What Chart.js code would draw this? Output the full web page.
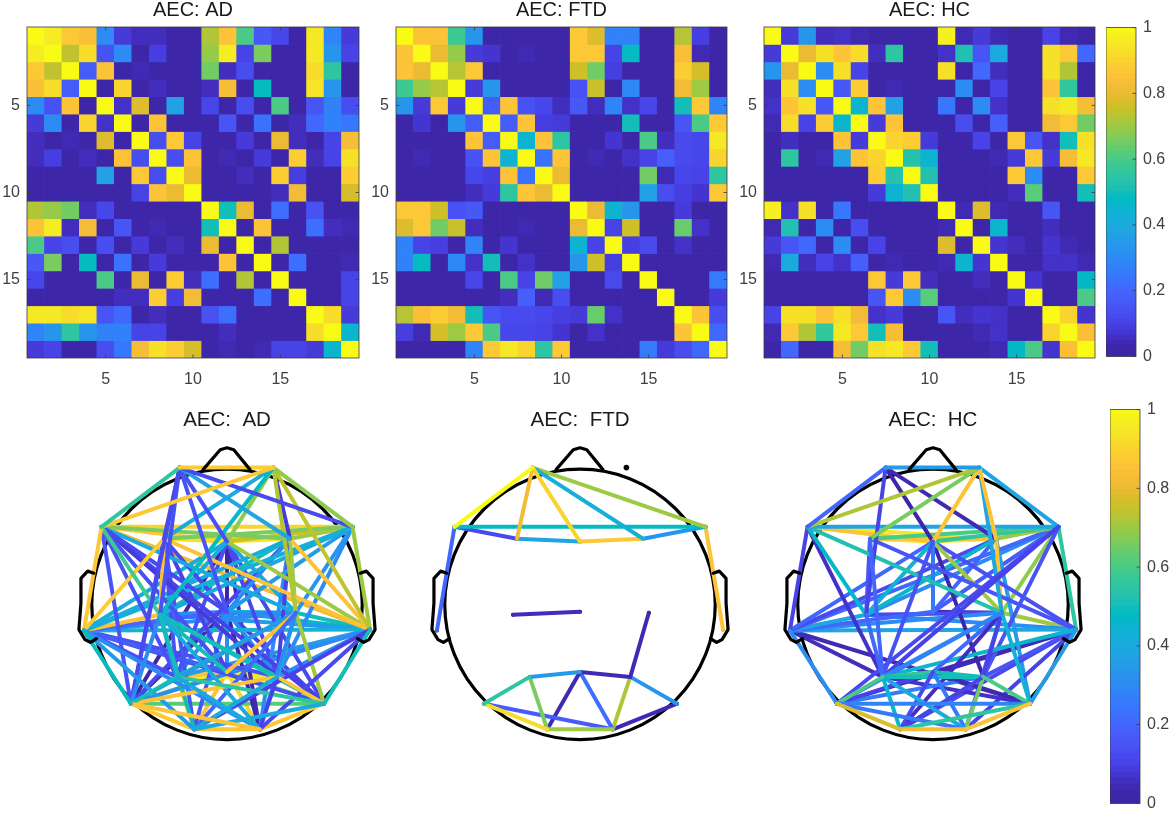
<!DOCTYPE html>
<html><head><meta charset="utf-8">
<script src="https://cdn.jsdelivr.net/npm/chart.js@4"></script>
<style>html,body{margin:0;padding:0;background:#fff;width:1170px;height:814px;overflow:hidden}canvas{position:absolute}</style>
</head><body>
<script>
const categories=['1','2','3','4','5','6','7','8','9','10','11','12','13','14','15','16','17','18','19'];
const matrixTicks=[5,10,15];
const colorbarTicks=[0,0.2,0.4,0.6,0.8,1];
const matrixTitles=['AEC: AD','AEC: FTD','AEC: HC'];
const headTitles=['AEC:  AD','AEC:  FTD','AEC:  HC'];
const parulaStops=['#3e26a8','#4432cb','#4741e5','#4852f4','#4563fd','#3875fe','#2e87f7','#2796eb','#20a5e3','#12b1d6','#02bac3','#24c1ae','#37c897','#57cc7a','#81cc59','#abc739','#d1bf27','#f0ba36','#fec338','#fad62d','#f5e924','#f9fb15'];

const matrixAD=[
[1,.96,.87,.84,.3,.08,.05,.05,.03,.03,.72,.85,.6,.16,.11,.03,.95,.28,.08],
[.96,1,.74,.92,.14,.3,.03,.09,.03,.03,.69,.96,.1,.66,.03,.03,.95,.33,.1],
[.87,.74,1,.17,.85,.03,.04,.03,.03,.03,.65,.05,.13,.03,.03,.03,.92,.55,.02],
[.84,.92,.17,1,.03,.9,.03,.05,.03,.03,.05,.83,.03,.48,.03,.03,.94,.33,.03],
[.3,.14,.85,.03,1,.06,.78,.03,.37,.03,.11,.03,.13,.03,.6,.03,.15,.27,.13],
[.08,.3,.03,.9,.06,1,.03,.85,.03,.03,.03,.15,.03,.23,.03,.05,.2,.27,.24],
[.05,.03,.04,.03,.78,.03,1,.13,.87,.1,.03,.03,.08,.03,.8,.05,.03,.1,.83],
[.05,.09,.03,.05,.03,.85,.13,1,.13,.85,.03,.04,.03,.08,.03,.88,.05,.1,.93],
[.03,.03,.03,.03,.37,.03,.87,.13,1,.8,.03,.03,.05,.03,.88,.09,.03,.03,.88],
[.03,.03,.03,.03,.03,.03,.1,.85,.8,1,.03,.03,.03,.03,.05,.82,.03,.03,.77],
[.72,.69,.65,.05,.11,.03,.03,.03,.03,.03,1,.5,.8,.03,.22,.03,.14,.03,.03],
[.85,.96,.05,.83,.03,.15,.03,.04,.03,.03,.5,1,.03,.85,.03,.03,.22,.05,.04],
[.6,.1,.13,.03,.13,.03,.08,.03,.05,.03,.8,.03,1,.03,.72,.03,.03,.03,.03],
[.16,.66,.03,.48,.03,.23,.03,.08,.03,.03,.03,.85,.03,1,.03,.22,.03,.03,.04],
[.11,.03,.03,.03,.6,.03,.8,.03,.88,.05,.22,.03,.72,.03,1,.03,.03,.03,.1],
[.03,.03,.03,.03,.03,.05,.05,.88,.09,.82,.03,.03,.03,.22,.03,1,.03,.03,.1],
[.95,.95,.92,.94,.15,.2,.03,.05,.03,.03,.14,.22,.03,.03,.03,.03,1,.92,.08],
[.28,.33,.55,.33,.27,.27,.1,.1,.03,.03,.03,.05,.03,.03,.03,.03,.92,1,.45],
[.08,.1,.02,.03,.13,.24,.83,.93,.88,.77,.03,.04,.03,.04,.1,.1,.08,.45,1]];

const matrixFTD=[
[1,.86,.85,.58,.33,.03,.03,.03,.03,.03,.87,.78,.27,.27,.03,.03,.73,.09,.02],
[.86,1,.8,.69,.08,.07,.03,.04,.03,.03,.87,.87,.1,.48,.03,.03,.84,.04,.03],
[.85,.8,1,.73,.87,.03,.03,.03,.03,.03,.76,.65,.09,.03,.03,.03,.88,.77,.03],
[.58,.69,.73,1,.08,.33,.03,.03,.03,.03,.14,.75,.02,.29,.03,.03,.82,.7,.02],
[.33,.08,.87,.08,1,.17,.86,.14,.11,.05,.16,.05,.28,.06,.11,.03,.5,.87,.28],
[.03,.07,.03,.33,.17,1,.17,.86,.09,.08,.03,.03,.03,.5,.03,.03,.15,.6,.87],
[.03,.03,.03,.03,.86,.17,1,.44,.85,.55,.03,.03,.07,.03,.6,.05,.12,.11,.95],
[.03,.04,.03,.03,.14,.86,.44,1,.23,.86,.03,.04,.03,.06,.1,.18,.12,.11,.9],
[.03,.03,.03,.03,.11,.09,.85,.23,1,.8,.03,.03,.03,.03,.65,.04,.11,.1,.55],
[.03,.03,.03,.03,.05,.08,.55,.86,.8,1,.03,.03,.03,.03,.37,.13,.09,.07,.87],
[.87,.87,.76,.14,.16,.03,.03,.03,.03,.03,1,.8,.44,.33,.03,.03,.08,.03,.03],
[.78,.87,.65,.75,.05,.03,.03,.04,.03,.03,.8,1,.1,.76,.03,.03,.64,.06,.03],
[.27,.1,.09,.02,.28,.03,.07,.03,.03,.03,.44,.1,1,.09,.12,.03,.06,.03,.03],
[.27,.48,.03,.29,.06,.5,.03,.06,.03,.03,.33,.76,.09,1,.03,.03,.03,.03,.03],
[.03,.03,.03,.03,.11,.03,.6,.1,.65,.37,.03,.03,.12,.03,1,.03,.03,.03,.25],
[.03,.03,.03,.03,.03,.03,.05,.18,.04,.13,.03,.03,.03,.03,.03,1,.03,.03,.08],
[.73,.84,.88,.82,.5,.15,.12,.12,.11,.09,.08,.64,.06,.03,.03,.03,1,.86,.13],
[.09,.04,.77,.7,.87,.6,.11,.11,.1,.07,.03,.06,.03,.03,.03,.03,.86,1,.2],
[.02,.03,.03,.02,.28,.87,.95,.9,.55,.87,.03,.03,.03,.03,.25,.08,.13,.2,1]];

const matrixHC=[
[1,.08,.33,.05,.06,.04,.02,.02,.02,.02,.97,.04,.08,.04,.02,.02,.1,.04,.03],
[.08,1,.8,.93,.86,.92,.05,.55,.02,.02,.06,.52,.15,.4,.02,.02,.93,.87,.2],
[.33,.8,1,.3,.93,.1,.02,.02,.02,.02,.93,.03,.2,.05,.02,.02,.93,.72,.03],
[.05,.93,.3,1,.16,.88,.02,.04,.02,.02,.02,.3,.03,.1,.02,.02,.85,.56,.03],
[.06,.86,.93,.16,1,.45,.86,.37,.02,.02,.24,.03,.3,.06,.03,.02,.93,.95,.83],
[.04,.92,.1,.88,.45,1,.08,.86,.02,.02,.03,.13,.03,.18,.02,.02,.82,.87,.65],
[.02,.05,.02,.02,.86,.08,1,.9,.88,.08,.02,.02,.1,.03,.87,.15,.06,.5,.93],
[.02,.55,.02,.04,.37,.86,.9,1,.53,.44,.02,.02,.03,.04,.08,.87,.08,.83,.95],
[.02,.02,.02,.02,.02,.02,.88,.53,1,.52,.02,.02,.02,.02,.87,.3,.02,.02,.87],
[.02,.02,.02,.02,.02,.02,.08,.44,.52,1,.02,.02,.02,.02,.05,.62,.02,.02,.5],
[.97,.06,.93,.02,.24,.03,.02,.02,.02,.02,1,.04,.78,.04,.02,.02,.15,.03,.03],
[.04,.52,.03,.3,.03,.13,.02,.02,.02,.02,.04,1,.03,.45,.02,.02,.05,.03,.03],
[.08,.15,.2,.03,.3,.03,.1,.02,.02,.02,.78,.03,1,.07,.05,.02,.07,.04,.02],
[.04,.4,.05,.1,.06,.18,.03,.04,.02,.02,.04,.45,.07,1,.02,.02,.06,.06,.04],
[.02,.02,.02,.02,.03,.02,.87,.08,.87,.05,.02,.02,.05,.02,1,.07,.02,.02,.47],
[.02,.02,.02,.02,.02,.02,.15,.87,.3,.62,.02,.02,.02,.02,.07,1,.02,.02,.6],
[.1,.93,.93,.85,.93,.82,.06,.08,.02,.02,.15,.05,.07,.06,.02,.02,1,.9,.07],
[.04,.87,.72,.56,.95,.87,.5,.83,.02,.02,.03,.03,.04,.06,.02,.02,.9,1,.84],
[.03,.2,.03,.03,.83,.65,.93,.95,.87,.5,.03,.03,.02,.04,.47,.6,.07,.84,1]];

const electrodes={Fp1:[-.35,1],Fp2:[.343,1],F7:[-.928,.567],F3:[-.466,.48],Fz:[0,.459],F4:[.466,.48],F8:[.928,.567],
T3:[-1.058,-.191],C3:[-.495,-.076],Cz:[0,-.054],C4:[.509,-.061],T4:[1.058,-.184],
T5:[-.711,-.726],P3:[-.372,-.53],Pz:[0,-.495],P4:[.372,-.53],T6:[.718,-.726],O1:[-.242,-.913],O2:[.242,-.913]};
const noseX=[-.177,-.05,0,.05,.17], noseY=[.985,1.13,1.145,1.13,.985];
const earLeftX=[-.985,-1.03,-1.08,-1.08,-1.095,-1.05,-1.01,-.965], earRightX=[.985,1.03,1.08,1.08,1.095,1.05,1.01,.965];
const earY=[.228,.243,.19,.01,-.185,-.257,-.278,-.25];

const edgesAD=[
['T3','T5',.48],['T4','T6',.5],['T5','O2',.86],['T6','O1',.4],
['P3','O2',.4],['P4','O1',.4],['P4','O2',.1],
['P3','T5',.5],['P3','T6',.55],['P4','T6',.86],['P4','T5',.85],
['T3','O1',.35],['T3','O2',.3],['T4','O1',.1],['T4','O2',.12],['C3','O1',.5],['C3','O2',.4],['C4','O1',.2],['C4','O2',.3],
['C4','Pz',.85],['C3','T5',.3],['C3','T6',.5],['C3','P3',.35],['C3','Pz',.5],['C3','P4',.5],['C4','T5',.35],['C4','T6',.7],['C4','P3',.5],['C4','P4',.5],
['Fp1','Fp2',.88],['Fp1','F7',.55],['Fp2','F7',.87],['Fp2','F8',.68],['Fp1','F8',.12],['Fp1','F4',.38],['Fp1','F3',.12],['Fp1','Fz',.14],['Fp1','C3',.14],['Fp1','T5',.12],['Fp1','Cz',.15],
['Fp2','F3',.4],['Fp2','C3',.48],['Fp2','Fz',.68],['Fp2','C4',.72],['Fp2','T4',.74],['Fp2','F4',.08],
['F7','T3',.87],['F8','T4',.7],['F7','C3',.58],['F3','T3',.88],['F3','C3',.85],['F3','T4',.85],['F4','T4',.85],['F4','C4',.7],['Fz','T4',.7],
['F7','Cz',.12],['F7','C4',.4],['F7','P3',.14],['F7','Pz',.14],['F7','T5',.15],['F7','P4',.08],['F7','T6',.1],
['F8','T3',.42],['F8','C3',.4],['F8','Cz',.35],['F8','C4',.33],['F8','P4',.3],['F3','Cz',.12],['F3','P3',.14],['F3','T5',.12],['F3','O1',.15],['F3','Pz',.1],
['F4','T3',.4],['F4','C3',.5],['F4','Cz',.3],['F4','P4',.1],['F4','O2',.3],['F4','T5',.12],
['Fz','T3',.4],['Fz','C3',.4],['Fz','C4',.4],['Fz','T6',.12],['Fz','P3',.14],['Fz','P4',.12],['F7','T4',.82],
['T3','C3',.85],['T3','Cz',.2],['T3','C4',.3],['T3','T4',.42],['T3','P3',.14],['T3','Pz',.18],['T3','P4',.14],['T3','T6',.13],
['C3','Cz',.3],['C3','C4',.3],['C3','T4',.35],['Cz','C4',.42],['Cz','T4',.45],['C4','T4',.5],
['T4','T5',.3],['T4','P3',.35],['T4','Pz',.15],['T4','P4',.3],
['Cz','P3',.3],['Cz','Pz',.3],['Cz','P4',.3],['Cz','O1',.15],['Cz','T6',.1],
['Fz','Pz',.03],['Fz','Cz',.14],['Fz','O2',.04],['Fz','T5',.03],['Cz','O2',.03],['Cz','T5',.04],
['P3','Pz',.85],['P3','P4',.95],['Pz','P4',.95],['Pz','T5',.62],['Pz','T6',.62],['T5','T6',.62],['P3','O1',.87],['Pz','O1',.85],['Pz','O2',.9],['T5','O1',.88],['T6','O2',.87],['O1','O2',.86],
['F3','F8',.66],['F7','F4',.66],['Fz','F8',.75],['F4','F8',.7],['F3','Fz',.93],['Fz','F4',.95],['F3','F4',.88],['F7','Fz',.87],['F7','F8',.9]];

const edgesFTD=[
['Fp1','F7',1],['Fp1','F3',.82],['Fp1','Fz',.9],['Fp1','F4',.42],['Fp1','F8',.7],['F7','F8',.48],['F7','F3',.12],['F3','Fz',.38],['Fz','F4',.87],['F4','F8',.33],
['F7','T3',.2],['F8','T4',.86],['C3','Cz',.05],['C4','P4',.04],['T5','P3',.55],['P3','Pz',.35],['Pz','P4',.04],['P4','T6',.33],
['T5','O1',.92],['P3','O1',.66],['O1','O2',.7],['T5','O2',.17],['O1','Pz',.04],['Pz','O2',.22],['P4','O2',.72],['O2','T6',.04]];

const edgesHC=[
['T5','O1',.78],['T6','O2',.85],['O1','O2',.83],['T6','O1',.55],['T5','O2',.25],['T5','T6',.28],['T3','T5',.3],['T4','T6',.35],
['P3','T5',.6],['P4','T6',.6],['P3','O1',.45],['P3','O2',.4],['P4','O1',.1],['P4','O2',.65],['Pz','O1',.12],['Pz','O2',.25],['P3','P4',.5],['P3','Pz',.55],['Pz','P4',.5],
['Pz','T5',.1],['Pz','T6',.04],['P4','T5',.25],['P3','T6',.06],
['C4','P3',.28],['C4','T5',.25],['C4','T6',.43],['C4','P4',.1],['C4','O1',.05],['C4','O2',.15],['C4','Pz',.2],['T4','P3',.45],['T4','P4',.15],['T4','O1',.12],['T4','O2',.1],
['C3','P3',.2],['F3','P3',.2],['Fz','P3',.14],['F8','P3',.1],['F8','P4',.15],['F8','T5',.12],
['Fp1','Fp2',.35],['Fp1','F7',.2],['Fp2','F7',.72],['Fp2','F3',.66],['Fp2','Fz',.86],['Fp2','F4',.85],['Fp2','F8',.38],['Fp2','C4',.38],
['Fp1','C3',.1],['Fp1','Fz',.03],['Fp1','F4',.04],
['F7','F8',.38],['F7','C3',.47],['F7','C4',.52],['F7','T3',.1],['F7','P3',.06],
['F3','F8',.6],['F3','C3',.15],['F3','T4',.15],['Fz','F8',.55],['Fz','C3',.43],['Fz','Cz',.25],['Fz','C4',.7],['Fz','T4',.14],['Fz','T3',.2],['Fz','P4',.03],
['F4','C3',.45],['F4','T3',.12],['F4','C4',.87],['F4','T6',.35],['F4','Cz',.2],['F4','F8',.7],
['F8','T4',.55],['F8','T3',.2],['F8','C3',.3],['F8','Cz',.17],['F8','C4',.68],
['T3','C3',.38],['T3','Cz',.2],['T3','C4',.3],['T3','T4',.38],['T3','P3',.05],['T3','T6',.04],['C3','C4',.12],['C3','T4',.3],['C4','T4',.7],['Cz','C4',.04],['T4','T5',.04],['T4','Pz',.04],
['F7','Fz',.85],['F3','F4',.85],['F3','Fz',.95],['Fz','F4',.95],['F7','F4',.95]];

function hex(c){return [1,3,5].map(i=>parseInt(c.substr(i,2),16));}
function parula(v){const u=v<.1?Math.max(0,(v-.03)*1.43):Math.min(1,v);const t=u*(parulaStops.length-1),i=Math.min(parulaStops.length-2,Math.floor(t)),f=t-i,a=hex(parulaStops[i]),b=hex(parulaStops[i+1]);
 return 'rgb('+a.map((p,k)=>Math.round(p+(b[k]-p)*f)).join(',')+')';}
function place(left,top,w,h){const c=document.createElement('canvas');c.width=w;c.height=h;c.style.cssText=`left:${left}px;top:${top}px;width:${w}px;height:${h}px`;document.body.appendChild(c);return c;}
const FONT='"Liberation Sans"';
const base={responsive:false,animation:false,devicePixelRatio:1,events:[]};
const boxPlugin={id:'box',afterDatasetsDraw(ch){const {ctx,chartArea:a}=ch;ctx.save();ctx.strokeStyle='#3a3a3a';ctx.lineWidth=.8;ctx.strokeRect(a.left,a.top,a.right-a.left,a.bottom-a.top);
 ctx.beginPath();const L=3.5;
 const sx=ch.scales.x; if(sx.options.display){sx.ticks.forEach((t,i)=>{if(!t.label)return;const p=sx.getPixelForTick(i);ctx.moveTo(p,a.top);ctx.lineTo(p,a.top+L);ctx.moveTo(p,a.bottom);ctx.lineTo(p,a.bottom-L);});}
 const sy=ch.scales.y; sy.ticks.forEach((t,i)=>{const p=sy.getPixelForTick(i);ctx.moveTo(a.right,p);ctx.lineTo(a.right-L,p);if(sx.options.display){ctx.moveTo(a.left,p);ctx.lineTo(a.left+L,p);}});
 ctx.stroke();ctx.restore();}};

function heatmap(matrix,title,plotLeft,plotWidth){
 const leftRoom=27,topPlot=27,bottomRoom=32,plotBottom=358;
 const c=place(plotLeft-leftRoom,0,leftRoom+plotWidth+1,plotBottom+bottomRoom);
 new Chart(c,{type:'bar',plugins:[boxPlugin],data:{labels:categories,datasets:matrix.map((row,r)=>({
   data:row.map(()=>[r+1-.52,r+1+.52]),backgroundColor:row.map(parula),borderWidth:0,grouped:false,barPercentage:1.04,categoryPercentage:1}))},
  options:{...base,layout:{padding:{top:0,right:1,left:0,bottom:0}},plugins:{legend:{display:false},tooltip:{enabled:false},
    title:{display:true,fullSize:false,text:title,color:'#1a1a1a',font:{family:FONT,size:20,weight:'normal',lineHeight:1},padding:{top:0,bottom:topPlot-20}}},
   scales:{x:{type:'category',offset:true,grid:{display:false,drawTicks:false},border:{display:false},afterFit(s){s.height=bottomRoom;s.paddingLeft=0;s.paddingRight=0;},
      ticks:{autoSkip:false,maxRotation:0,padding:12,color:'#404040',font:{family:FONT,size:16},callback(v,i){return matrixTicks.includes(i+1)?categories[i]:'';}}},
     y:{type:'linear',reverse:true,min:.5,max:19.5,grid:{display:false,drawTicks:false},border:{display:false},afterFit(s){s.width=leftRoom;},afterBuildTicks(s){s.ticks=matrixTicks.map(v=>({value:v}));},
      ticks:{padding:7,color:'#404040',font:{family:FONT,size:16},callback:v=>String(v)}}}}});
}
heatmap(matrixAD,matrixTitles[0],27,332);
heatmap(matrixFTD,matrixTitles[1],396,331);
heatmap(matrixHC,matrixTitles[2],763.5,331);

function colorbar(left,top,width,height){
 const pad=16,room=30,levels=64,steps=Array.from({length:levels},(_,i)=>i);
 const c=place(left,top-pad,width+room,height+2*pad);
 new Chart(c,{type:'bar',plugins:[boxPlugin],data:{labels:[''],datasets:steps.map(i=>({data:[[(i-.1)/levels,(i+1.1)/levels]],backgroundColor:parula((i+.5)/levels),borderWidth:0,grouped:false,barPercentage:1,categoryPercentage:1}))},
  options:{...base,layout:{padding:{top:pad,bottom:pad}},plugins:{legend:{display:false},tooltip:{enabled:false},title:{display:false}},
   scales:{x:{display:false,offset:true},y:{type:'linear',position:'right',min:0,max:1,grid:{display:false,drawTicks:false},border:{display:false},afterFit(s){s.width=room;},
     afterBuildTicks(s){s.ticks=colorbarTicks.map(v=>({value:v}));},ticks:{padding:7,color:'#404040',font:{family:FONT,size:16},callback:v=>String(v)}}}}});
}
colorbar(1106,27,30,330);
colorbar(1110,409,30,395);

const circlePlugin={id:'head',beforeDatasetsDraw(ch){const {ctx,scales:{x,y}}=ch;ctx.save();ctx.strokeStyle='#000';ctx.lineWidth=3.2;ctx.beginPath();
 ctx.arc(x.getPixelForValue(0),y.getPixelForValue(0),x.getPixelForValue(1)-x.getPixelForValue(0),0,Math.PI*2);ctx.stroke();ctx.restore();}};
const zip=(xs,ys)=>xs.map((v,i)=>({x:v,y:ys[i]}));
function outline(pts){return {data:pts,showLine:true,borderColor:'#000',borderWidth:3.2,pointRadius:0,tension:0,borderJoinStyle:'round',borderCapStyle:'round'};}
function head(edges,title,cx){
 const R=138.5,cy=606.5,w=340,top=410,h=350,titleH=24;
 const c=place(cx-w/2,top,w,h);
 const sets=[outline(zip(noseX,noseY)),outline(zip(earLeftX,earY)),outline(zip(earRightX,earY))];
 edges.forEach(([a,b,v])=>sets.push({data:[a,b].map(n=>({x:electrodes[n][0],y:electrodes[n][1]})),showLine:true,borderColor:parula(v),borderWidth:4,pointRadius:0,tension:0,borderCapStyle:'round'}));
 const linked=new Set(edges.flatMap(e=>[e[0],e[1]]));
 sets.push({data:Object.keys(electrodes).map(n=>({x:electrodes[n][0],y:electrodes[n][1]})),showLine:false,pointRadius:Object.keys(electrodes).map(n=>linked.has(n)?2:2.8),pointBackgroundColor:'#000',pointBorderWidth:0});
 new Chart(c,{type:'scatter',plugins:[circlePlugin],data:{datasets:sets},options:{...base,layout:{padding:0},
   plugins:{legend:{display:false},tooltip:{enabled:false},title:{display:true,text:title,color:'#1a1a1a',font:{family:FONT,size:20.5,weight:'normal',lineHeight:1},padding:{top:0,bottom:titleH-20.5}}},
   scales:{x:{display:false,min:-(w/2)/R,max:(w/2)/R},y:{display:false,min:(cy-(top+h))/R,max:(cy-(top+titleH))/R}}}});
}
head(edgesAD,headTitles[0],226.5);
head(edgesFTD,headTitles[1],579.5);
head(edgesHC,headTitles[2],933);
</script>
</body></html>
